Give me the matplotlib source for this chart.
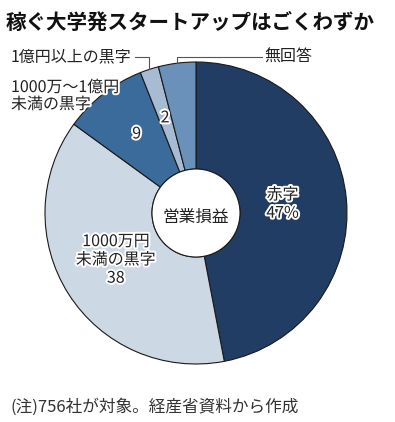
import numpy as np
import matplotlib
matplotlib.use("Agg")
import matplotlib.pyplot as plt
import matplotlib.patheffects as pe
from matplotlib.patches import Circle

plt.rcParams['font.family'] = ['Noto Sans CJK JP', 'DejaVu Sans']

# data (clockwise from 12 o'clock)
labels = ['赤字', '1000万円\n未満の黒字', '1000万～1億円\n未満の黒字', '1億円以上の黒字', '無回答']
values = [47, 38, 9, 2, 4]
colors = ['#213d64', '#cdd8e5', '#3a6b9b', '#a7bcd3', '#6a91ba']

title = '稼ぐ大学発スタートアップはごくわずか'
center_text = '営業損益'
note = '(注)756社が対象。経産省資料から作成'

W, H = 395, 422
fig = plt.figure(figsize=(W/100, H/100), dpi=100)
ax = fig.add_axes([0, 0, 1, 1])

cx, cy = 196, H - 213
R, r = 151, 44
edge = '#1a1a1a'

ax.pie(values, colors=colors, startangle=90, counterclock=False,
       center=(cx, cy), radius=R, frame=True,
       wedgeprops=dict(width=R - r, edgecolor=edge, linewidth=0.8))
ax.add_patch(Circle((cx, cy), r, facecolor='white', edgecolor=edge, lw=0.8, zorder=5))
ax.set_xlim(0, W)
ax.set_ylim(0, H)
ax.axis('off')

# mid angles (degrees clockwise from top)
cum = np.cumsum([0] + values)
mid = (cum[:-1] + cum[1:]) / 2 * 3.6

def pos(i, rad):
    a = np.deg2rad(mid[i])
    return cx + rad * np.sin(a), cy + rad * np.cos(a)

halo = [pe.withStroke(linewidth=2.8, foreground='white')]
tcol = '#222222'
fs = 11.5

# inside labels
x, y = pos(0, 95)
ax.text(x - 8, y, '赤字\n47%', ha='center', va='center', fontsize=fs,
        color=tcol, path_effects=halo, linespacing=1.1)
x, y = pos(1, 95)
ax.text(x, y + 4, labels[1] + '\n' + str(values[1]), ha='center', va='center',
        fontsize=fs, color=tcol, path_effects=halo, linespacing=1.1)
x, y = pos(2, 100)
ax.text(x + 2, y, str(values[2]), ha='center', va='center', fontsize=fs,
        color=tcol, path_effects=halo)
x, y = pos(3, 100)
ax.text(x, y, str(values[3]), ha='center', va='center', fontsize=fs,
        color=tcol, path_effects=halo)

# outside labels
ax.text(11, H - 96, labels[2], ha='left', va='center', fontsize=fs,
        color=tcol, path_effects=halo, linespacing=1.0, zorder=6)

ly = H - 57
x, y = pos(3, R)
ax.plot([135, x, x], [ly, ly, y], color='#555555', lw=0.8)
ax.text(11, ly, labels[3], ha='left', va='center', fontsize=fs, color=tcol)

x, y = pos(4, R)
ax.plot([x, x, 262], [y, ly, ly], color='#555555', lw=0.8)
ax.text(264, ly, labels[4], ha='left', va='center', fontsize=fs, color=tcol)

ax.text(cx, cy - 4, center_text, ha='center', va='center', fontsize=12, color=tcol, zorder=6)

ax.text(6, H - 22, title, ha='left', va='center', fontsize=14.8, fontweight='bold', color='#111111')
ax.text(10, H - 407, note, ha='left', va='center', fontsize=12, color='#333333')

fig.savefig('out.png', dpi=100)
